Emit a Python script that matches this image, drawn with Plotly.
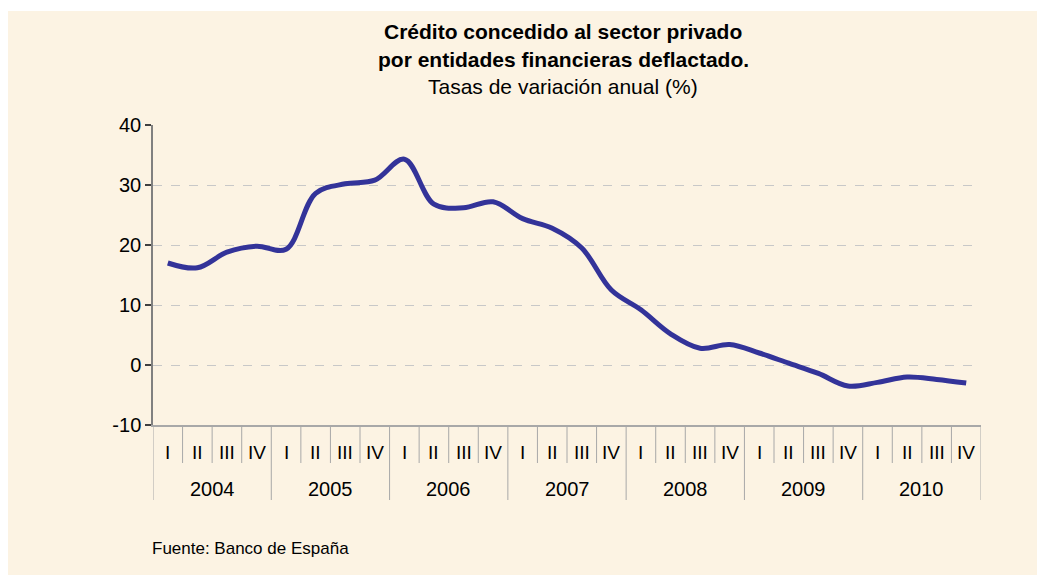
import plotly.graph_objects as go

years = ["2004", "2005", "2006", "2007", "2008", "2009", "2010"]
quarters = ["I", "II", "III", "IV"]
values = [17.0, 16.2, 18.8, 19.8,
          19.3, 28.6, 30.2, 30.8,
          34.3, 26.8, 26.2, 27.2,
          24.4, 22.8, 19.5, 12.5,
          9.2, 5.2, 2.8, 3.4,
          2.0, 0.3, -1.4, -3.5,
          -2.9, -2.0, -2.4, -3.0]
y_ticks = [-10, 0, 10, 20, 30, 40]
y_tick_text = ["-10", "0", "10", "20", "30", "40"]

title_lines = ["<b>Crédito concedido al sector privado</b>",
               "<b>por entidades financieras deflactado.</b>",
               "Tasas de variación anual (%)"]
source_text = "Fuente: Banco de España"

CREAM = "#FCF3E3"
LINE = "#333399"
FONT = "Liberation Sans, Arial, sans-serif"

OFF = 8  # page body offset
W, H = 1045 - OFF, 575 - OFF
L, R, T, B = 153 - OFF, 64, 125 - OFF, 150
PW, PH = W - L - R, H - T - B

def px_x(px):
    return (px - OFF - L) / PW

def px_y(py):
    return (H - B - (py - OFF)) / PH

n = len(values)
xs = list(range(n))

fig = go.Figure()
fig.add_trace(go.Scatter(x=xs, y=values, mode="lines",
                         line=dict(color=LINE, width=5, shape="spline", smoothing=1.0),
                         hoverinfo="skip", showlegend=False))

shapes = []
shapes.append(dict(type="rect", xref="paper", yref="paper", layer="below",
                   x0=px_x(8), x1=px_x(1045 + 20), y0=px_y(575 + 20), y1=px_y(11),
                   fillcolor=CREAM, line=dict(width=0)))
for k in range(n + 1):
    is_year = (k % 4 == 0)
    shapes.append(dict(type="line", xref="x", yref="paper",
                       x0=k - 0.5, x1=k - 0.5, y0=0, y1=px_y(500 if is_year else 463),
                       line=dict(color="#A8A8A8", width=1)))

annotations = []
for i in range(n):
    annotations.append(dict(x=i, y=px_y(452), xref="x", yref="paper",
                            text=quarters[i % 4], showarrow=False,
                            font=dict(family=FONT, size=19, color="#000000"),
                            xanchor="center", yanchor="middle"))
for j, yr in enumerate(years):
    annotations.append(dict(x=j * 4 + 1.5, y=px_y(489), xref="x", yref="paper",
                            text=yr, showarrow=False,
                            font=dict(family=FONT, size=20, color="#000000"),
                            xanchor="center", yanchor="middle"))
title_y = [32, 59, 87]
for t, ty in zip(title_lines, title_y):
    annotations.append(dict(x=px_x(563), y=px_y(ty), xref="paper", yref="paper",
                            text=t, showarrow=False,
                            font=dict(family=FONT, size=21, color="#000000"),
                            xanchor="center", yanchor="middle"))
annotations.append(dict(x=px_x(150), y=px_y(548), xref="paper", yref="paper",
                        text=source_text, showarrow=False,
                        font=dict(family=FONT, size=17, color="#000000"),
                        xanchor="left", yanchor="middle"))

fig.update_layout(
    width=W, height=H,
    margin=dict(l=L, r=R, t=T, b=B),
    paper_bgcolor="#FFFFFF",
    plot_bgcolor=CREAM,
    shapes=shapes,
    annotations=annotations,
    xaxis=dict(range=[-0.5, n - 0.5], showticklabels=False, ticks="",
               showgrid=False, zeroline=False, showline=True,
               linecolor="#A8A8A8", linewidth=1.5),
    yaxis=dict(range=[-10, 40], tickvals=y_ticks, ticktext=y_tick_text,
               ticks="outside", ticklen=6,
               tickcolor="#404040", tickwidth=1.5,
               showline=True, linecolor="#808080", linewidth=1.5,
               showgrid=True, gridcolor="#C8C8C8", griddash="dash", gridwidth=1,
               zeroline=False,
               tickfont=dict(family=FONT, size=20, color="#000000")),
)

fig.write_html("out.html")
